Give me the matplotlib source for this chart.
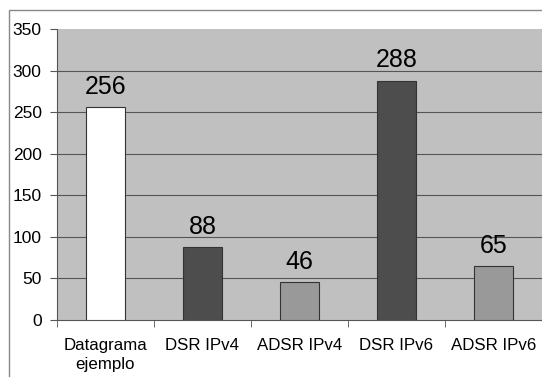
import matplotlib.pyplot as plt
from matplotlib.patches import Rectangle

plt.rcParams['font.family'] = ['Liberation Sans', 'DejaVu Sans']

categories = ['Datagrama\nejemplo', 'DSR IPv4', 'ADSR IPv4', 'DSR IPv6', 'ADSR IPv6']
values = [256, 88, 46, 288, 65]
colors = ['#ffffff', '#4d4d4d', '#999999', '#4d4d4d', '#999999']

fig = plt.figure(figsize=(5.42, 3.77), dpi=100)
ax = fig.add_axes([0.105, 0.151, 0.895, 0.772])

# outer chart frame
fig.patches.append(Rectangle((9 / 542, -0.1), 1.2, 1 - 10 / 377 + 0.1,
                             transform=fig.transFigure, fill=False,
                             edgecolor='#888888', linewidth=1))

ax.set_facecolor('#c0c0c0')
x = range(len(values))
ax.bar(x, values, width=0.4, color=colors, edgecolor='#333333', linewidth=0.8, zorder=3)
for xi, v in zip(x, values):
    ax.text(xi, v + 10, str(v), ha='center', va='bottom', fontsize=18)

ax.set_xlim(-0.5, len(values) - 0.5)
ax.set_ylim(0, 350)
ax.set_yticks(range(0, 351, 50))
for y in range(50, 350, 50):
    ax.axhline(y, color='#555555', linewidth=0.8, zorder=1)

ax.set_xticks(x)
ax.set_xticklabels(categories, fontsize=12.2, linespacing=1.3)
ax.tick_params(axis='x', length=0, pad=13)
ax.set_xticks([i - 0.5 for i in range(len(values) + 1)], minor=True)
ax.tick_params(axis='x', which='minor', length=5, color='#555555', direction='out')
ax.tick_params(axis='y', labelsize=12.5, length=5, color='#555555', pad=6)

for side in ['top', 'right']:
    ax.spines[side].set_visible(False)
ax.spines['left'].set_color('#555555')
ax.spines['bottom'].set_color('#555555')

fig.savefig('out.png', dpi=100)
